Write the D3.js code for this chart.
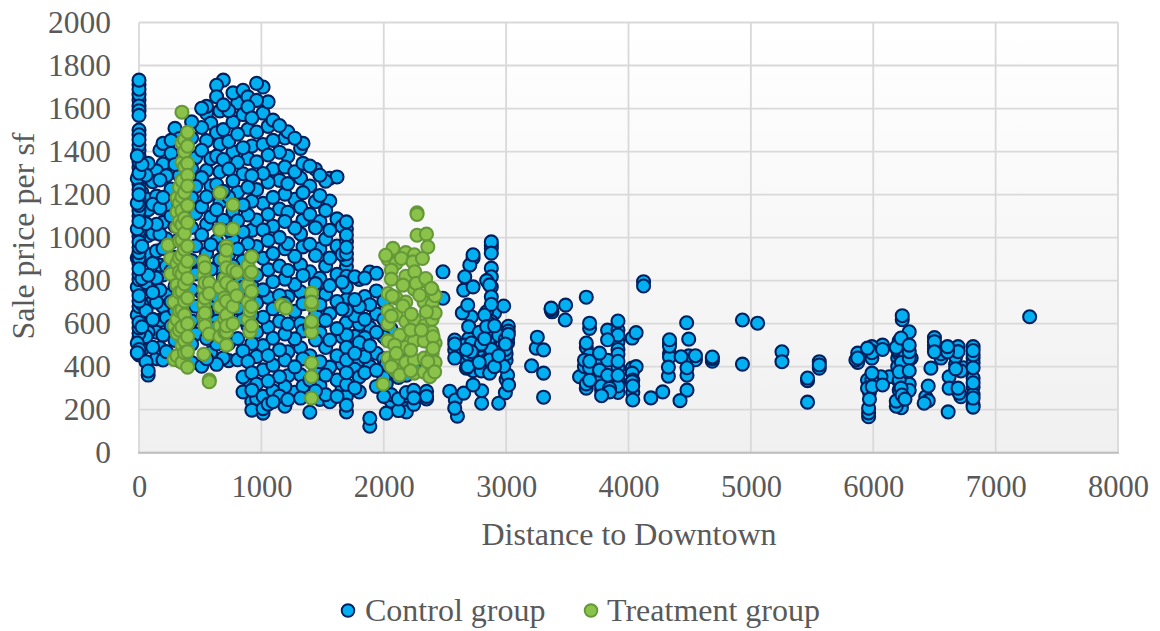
<!DOCTYPE html>
<meta charset="utf-8">
<head>
  <title>Sale price vs distance</title>
</head>

<style>
body { margin: 0; background: #fff; }
text { font-family: "Liberation Serif", "Times New Roman", serif; fill: #595959; }
.axis path, .axis line { display: none; }
.grid line { stroke: #d9d9d9; stroke-width: 1.8; }
</style>

<body>
<script src="https://d3js.org/d3.v7.min.js"></script>
<script>

var xTicks = [0, 1000, 2000, 3000, 4000, 5000, 6000, 7000, 8000];
var yTicks = [0, 200, 400, 600, 800, 1000, 1200, 1400, 1600, 1800, 2000];
var seriesNames = ["Control group", "Treatment group"];

// each row is [distance, [prices...]]
var controlEdge = [
  [0, [1732,1712,1690,1665,1640,1612,1590,1568,1500,1478,1455,1430,1405,1380,1352,1325,1300,1272,1248,1222,1200,1175,1150,1125,1100,1075,1052,1030,1005,980,955,930,905,880,855,830,805,780,755,730,705,680,655,630,605,580,555,530,505,480,455]],
  [-14, [1380,1275,1160,1040,905,770,640,510,465]],
  [24, [1340,1210,1080,960,810,690,585,480]],
  [57, [1290,1180,1065,925,790,660,540,423]],
  [75, [1345,1130,1010,825,690,560,361,380]],
  [112, [1260,1155,1020,880,745,620,490]]
];
var controlCore = [
  [143, [1310,1193,1062,938,812,700,560,437]],
  [171, [1406,1268,1137,1016,872,756,615,488]],
  [196, [1438,1342,1187,1071,949,826,679,547,431]],
  [224, [1288,1153,994,867,733,628,470]],
  [262, [1452,1392,1226,1101,978,846,702,589,446]],
  [294, [1508,1340,1201,1054,908,773,661,522]],
  [331, [1461,1289,1130,995,853,732,580,428]],
  [372, [1412,1243,1086,954,806,644,488]],
  [430, [1538,1463,1322,1186,1047,893,758,612,505,419]],
  [463, [1372,1238,1112,962,831,681,552]],
  [512, [1601,1512,1406,1279,1144,1013,885,744,622,402]],
  [552, [1610,1578,1451,1312,1190,1062,926,801,663,531,437]],
  [587, [1532,1367,1241,1096,967,852,709,578,466]],
  [634, [1708,1655,1488,1379,1247,1130,985,861,727,611,411,506]],
  [661, [1589,1434,1306,1163,1038,897,772,649,536]],
  [689, [1732,1617,1502,1363,1215,1081,953,818,693,564,441]],
  [733, [1590,1447,1319,1188,1033,921,788,655,508,428]],
  [768, [1673,1537,1398,1264,1122,996,868,740,603]],
  [806, [1626,1481,1350,1211,1078,947,806,672,531,432]],
  [850, [1685,1572,1418,1297,1152,1026,892,769,621,473,283,352]],
  [890, [1608,1654,1503,1368,1234,1105,972,844,708,589,424,338]],
  [922, [1556,1426,1288,1169,1034,913,776,640,508,291,198,372,238]],
  [961, [1717,1638,1491,1352,1223,1082,958,826,697,561,447,319,251]],
  [1014, [1700,1579,1433,1298,1159,1036,904,757,630,498,385,262,184,205]],
  [1055, [1631,1517,1384,1258,1108,987,851,722,584,452,333,226]],
  [1095, [1546,1452,1319,1187,1053,926,795,669,532,407,288,237]],
  [1148, [1521,1397,1266,1133,1001,868,731,611,478,353,263]],
  [1192, [1463,1328,1202,1075,948,807,694,552,431,307,216]],
  [1216, [1492,1379,1251,1118,972,847,725,598,469,358,247]],
  [1273, [1462,1306,1178,1044,913,782,657,529,399,281]],
  [1320, [1415,1277,1142,1017,873,748,601,488,362,254]],
  [1340, [1438,1345,1209,1081,957,824,693,566,437,309]],
  [1396, [1333,1240,1108,969,841,712,583,451,338,188,266]],
  [1442, [1318,1167,1046,917,786,640,524,392,287]],
  [1478, [1290,1196,1075,948,811,688,558,423,312,248]],
  [1525, [1262,1126,993,868,737,615,489,361,270]],
  [1559, [1276,1170,1034,905,777,646,524,398,237]],
  [1618, [1282,1087,961,829,703,577,451,338,262]],
  [1660, [1052,922,793,668,539,413,302]],
  [1695, [1073,1040,1012,982,955,925,897,866,820,770,712,663,605,548,490,431,372,318,262,221,190]],
  [1763, [818,712,637,541,462,388,301]],
  [1800, [806,679,598,512,431,352,283]],
  [1845, [812,726,620,535,447,372]],
  [1886, [840,688,583,498,401,160,123]],
  [1940, [834,752,645,560,462,383,308]],
  [2000, [705,620,538,437,350,262]],
  [2021, [527,412,322,184]],
  [2060, [575,380,270,240]],
  [2120, [470,350,250,222,196]],
  [2185, [360,280,240,190,205]],
  [2245, [400,290,255,225]],
  [2350, [520,380,285,262,250]]
];
var controlWest = [
  [2484, [841,718]],
  [2539, [286]],
  [2580, [524,505,478,440,207]],
  [2585, [245]],
  [2602, [170]],
  [2642, [650]],
  [2653, [756,277]],
  [2662, [818,500]],
  [2675, [480,393,430]],
  [2686, [686,400]],
  [2694, [586,530,455]],
  [2703, [872]],
  [2716, [632,510,470]],
  [2730, [920,904,771,381,315]],
  [2780, [560,500,450,420]],
  [2797, [505,380]],
  [2800, [288,230]],
  [2824, [640,530,460,384]],
  [2841, [800,655,586,495,430]],
  [2865, [780,600,510,431,370]],
  [2879, [980,965,950,928,858,818,771,725,690,610,540,480]],
  [2905, [650,590,520,450,400]],
  [2939, [545,451,230]],
  [2980, [682,402]],
  [2994, [528,505,480,279]],
  [3000, [340,460,430]],
  [3012, [361,530,510]],
  [3018, [588,565,550]],
  [3020, [315]]
];
var controlFar = [
  [3208, [404]], [3246, [486]], [3255, [537]], [3306, [478,370,258]],
  [3368, [672,665]], [3375, [655]], [3483, [617]], [3486, [686]],
  [3600, [353]], [3640, [430,400,345]], [3655, [723,510,490,425,320,300]],
  [3682, [602,578,454,425,395,337]], [3763, [463,440,384,340]],
  [3780, [291,265,310]], [3829, [570,525,430,360]], [3845, [283,300]],
  [3914, [612,570,547,515,480,458,425,395,338,310,280,360]],
  [4030, [533,393,370,330]], [4035, [338,310,280,245]], [4062, [558,400]],
  [4123, [795,775]], [4183, [255]], [4280, [283]],
  [4326, [398,356]], [4335, [525,510,495,462,445]],
  [4421, [242]], [4430, [446]], [4475, [604]], [4478, [395,360,291]],
  [4492, [528,450]], [4547, [451,432]], [4685, [445,437,425]],
  [4931, [617,412]], [5055, [602]], [5254, [469,423]],
  [5463, [347,335,235]], [5559, [423,408,393]],
  [5858, [431]], [5873, [463,420,440]],
  [5953, [486,338,300]], [5962, [207,167,185]], [5969, [249,280]],
  [5989, [493,465,440,370,340]], [5992, [307,470]],
  [6063, [353]], [6076, [500,480,315]], [6131, [353]],
  [6188, [216,240,490]], [6200, [477,440,400,340]],
  [6212, [520,376,338,291,460]], [6227, [533,300,260]], [6230, [477,209,420,380]],
  [6235, [268]], [6237, [637,618]], [6259, [249,500]],
  [6263, [516,460,350]], [6294, [562,500,470,440,381,319,290]], [6310, [440]],
  [6416, [230]], [6429, [260]], [6449, [310,242]], [6471, [393]],
  [6500, [535,516,500,485,469]], [6553, [440,460]],
  [6607, [493,469,480]], [6612, [190]], [6620, [353,300]],
  [6673, [446,390,410]], [6693, [493,470,300]], [6702, [277]], [6716, [260,380]], [6737, [395]],
  [6816, [493,475,455,440,418,395,347,325,305,270,254,222,212]],
  [7278, [632]]
];
var treatmentWest = [
  [237, [965]],
  [259, [903,830]],
  [286, [434,700,590]],
  [310, [1185,1120,1050,880,780,620,555,450]],
  [330, [1235,1160,1075,985,905,840,745,660,570]],
  [351, [1583,1440,1350,1265,1190,1125,1060,990,920,830,750,665,585,500,420]],
  [372, [1455,1400,1330,1210,1090,1020,945,860,785,705,640,520,465]],
  [397, [1490,1425,1345,1290,1240,1150,1070,960,890,810,720,600,540,470,398]],
  [530, [458,890,825,760,690,630]],
  [539, [608,860,790,720,650,590]],
  [574, [552,338,330,790,740]],
  [661, [1208,1037,770,680,590,540]],
  [700, [900,810,720,620,560]],
  [715, [500,562,960,860,705,640]],
  [716, [942,790,590]],
  [768, [1152,1040,850,770,680,600]],
  [800, [840,730]],
  [890, [870,780,700,620]],
  [906, [562,660,830]],
  [920, [911,840,750,680,590]],
  [1164, [686]],
  [1200, [672]],
  [1410, [742,686,593,561,417,353,254,700,610]]
];
// discs lying on top in the eastern green block
var treatmentEast = [
  [2035, [900,740,660,600,520,440]],
  [2100, [880,720,640,440,380]],
  [2180, [930,820,700,610,540,490,420]],
  [2250, [920,760,620,520,430,370]],
  [2330, [800,700,590,520,440,375]],
  [2395, [760,690,620,560,460,400]],
  [2420, [730,650,510,420]],
  [2272, [1115,1108,1011]],
  [2349, [1016]],
  [2360, [957]],
  [2075, [950]],
  [2016, [918]],
  [2144, [903]],
  [2239, [887]],
  [2316, [903]],
  [2062, [849,807,635,400]],
  [2253, [841]],
  [2157, [779,682]],
  [2266, [787]],
  [2343, [810]],
  [2389, [764]],
  [2070, [728]],
  [2293, [733]],
  [2225, [644]],
  [2349, [655]],
  [2130, [547,361]],
  [2220, [570,477,381]],
  [2089, [500]],
  [2307, [570]],
  [2403, [539,485]],
  [2103, [462]],
  [2360, [423]],
  [1994, [319]],
  [2376, [353]],
  [2416, [376]]
];

function flatten(rows) {
  return rows.flatMap(function(r) { return r[1].map(function(v) { return [r[0], v]; }); });
}

var control = flatten(controlEdge.concat(controlCore, controlWest, controlFar));
var treatment = flatten(treatmentWest.concat(treatmentEast));

// mix the paint order of the blue cloud so it doesn't shingle column by column
function paintOrder(d) { return (d[0] * 31 + d[1] * 17) % 101; }
control.sort(function(a, b) { return paintOrder(a) - paintOrder(b); });

var w = 1160, h = 631;
var margin = {top: 22.5, right: 42, bottom: 178.3, left: 139};

var svg = d3.select("body").append("svg")
  .attr("width", w)
  .attr("height", h)
  .style("display", "block");

var x = d3.scaleLinear().domain([0, 8000]).range([margin.left, w - margin.right]);
var y = d3.scaleLinear().domain([0, 2000]).range([h - margin.bottom, margin.top]);

var grad = svg.append("defs").append("linearGradient")
  .attr("id", "plotbg")
  .attr("x1", 0).attr("y1", 0).attr("x2", 0).attr("y2", 1);
grad.append("stop").attr("offset", "0%").attr("stop-color", "#ffffff");
grad.append("stop").attr("offset", "100%").attr("stop-color", "#f0f0f0");

svg.append("rect")
  .attr("x", x(0))
  .attr("y", y(2000))
  .attr("width", x(8000) - x(0))
  .attr("height", y(0) - y(2000))
  .attr("fill", "url(#plotbg)");

var grid = svg.append("g").attr("class", "grid");
grid.selectAll(".gy").data(yTicks).enter().append("line")
  .attr("x1", x(0)).attr("x2", x(8000))
  .attr("y1", function(d) { return y(d); })
  .attr("y2", function(d) { return y(d); });
grid.selectAll(".gx").data(xTicks).enter().append("line")
  .attr("y1", y(0)).attr("y2", y(2000))
  .attr("x1", function(d) { return x(d); })
  .attr("x2", function(d) { return x(d); });

// x axis baseline is a bit darker
svg.append("line")
  .attr("x1", x(0) - 1).attr("x2", x(8000) + 1)
  .attr("y1", y(0)).attr("y2", y(0))
  .attr("stroke", "#bfbfbf").attr("stroke-width", 2);

svg.append("g").attr("class", "axis")
  .attr("transform", "translate(0," + y(0) + ")")
  .call(d3.axisBottom(x).tickValues(xTicks).tickFormat(d3.format("d")).tickSize(0).tickPadding(23))
  .selectAll("text").style("font-size", "30.5px").attr("fill", null);

svg.append("g").attr("class", "axis")
  .attr("transform", "translate(" + x(0) + ",0)")
  .call(d3.axisLeft(y).tickValues(yTicks).tickFormat(d3.format("d")).tickSize(0).tickPadding(28))
  .selectAll("text").style("font-size", "31.5px").attr("fill", null);

function drawDots(data, fill, stroke) {
  svg.append("g").selectAll("circle")
    .data(data)
    .enter()
    .append("circle")
    .attr("cx", function(d) { return x(d[0]); })
    .attr("cy", function(d) { return y(d[1]); })
    .attr("r", 6.5)
    .attr("fill", fill)
    .attr("stroke", stroke)
    .attr("stroke-width", 2.1);
}

drawDots(control, "#00b0f0", "#002060");
drawDots(treatment, "#8bc34a", "#659838");

svg.append("text")
  .attr("x", 629).attr("y", 545)
  .attr("text-anchor", "middle")
  .style("font-size", "32px")
  .text("Distance to Downtown");

svg.append("text")
  .attr("transform", "translate(34,236) rotate(-90)")
  .attr("text-anchor", "middle")
  .style("font-size", "32px")
  .text("Sale price per sf");

// legend
var legendX = [348, 591], legendTextX = [365, 607];
seriesNames.forEach(function(name, i) {
  svg.append("circle")
    .attr("cx", legendX[i]).attr("cy", 610.5)
    .attr("r", 6.3)
    .attr("fill", i == 0 ? "#00b0f0" : "#8bc34a")
    .attr("stroke", i == 0 ? "#002060" : "#659838")
    .attr("stroke-width", 1.9);
  svg.append("text")
    .attr("x", legendTextX[i]).attr("y", 621)
    .style("font-size", "32px")
    .text(name);
});

</script>
</body>
</html>
